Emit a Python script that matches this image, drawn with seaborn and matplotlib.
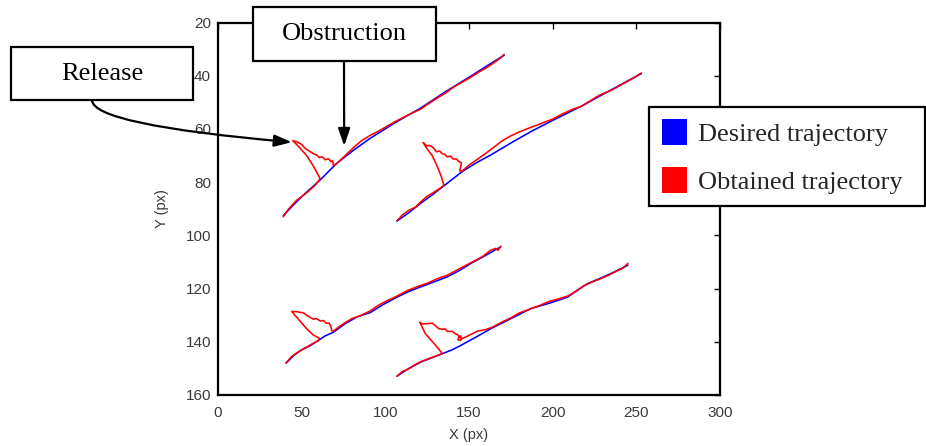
import matplotlib
matplotlib.use("Agg")
import matplotlib.pyplot as plt
import seaborn as sns
import pandas as pd
from matplotlib.patches import Patch, Rectangle

# ---------------- data ----------------
d1_x = [39, 45, 52, 61, 71, 81, 91, 106, 121, 136, 151, 161, 171]
d1_y = [92.6, 88.6, 84.3, 79.2, 72.9, 68.0, 63.5, 57.6, 52.2, 46.0, 40.2, 36.2, 32.3]
o1_x = [39, 42, 47, 53, 58, 61, 57.5, 53, 48, 44.7, 47, 50, 52, 55, 57, 59, 60.5, 62.5, 64, 66,
        67.5, 68.5, 69, 70.5, 76, 81, 86, 91, 96, 101, 106, 111, 116, 121, 126, 131, 136, 141,
        146, 151, 156, 161, 166, 169, 171]
o1_y = [93.0, 90.2, 86.8, 84.0, 81.2, 78.7, 74.5, 70.0, 66.5, 64.4, 64.8, 65.8, 67.3, 68.5, 69.3,
        69.8, 70.8, 70.5, 71.6, 71.2, 72.3, 72.0, 73.8, 73.3, 70.0, 67.0, 64.3, 62.4, 60.8, 59.0,
        57.2, 55.6, 54.0, 52.6, 50.4, 48.4, 46.5, 44.2, 42.4, 40.6, 38.6, 36.8, 34.6, 33.2, 32.0]

d2_x = [107, 114, 121, 128, 135, 146, 155, 163, 175, 187, 200, 217, 235, 253]
d2_y = [94.6, 91.5, 88.0, 84.8, 81.4, 76.0, 72.5, 69.8, 65.3, 61.0, 56.8, 51.5, 45.3, 39.2]
o2_x = [107, 110, 114, 118, 121, 125, 129, 133, 135, 133.5, 131, 128, 125, 122.6, 124.5, 127,
        129, 130.5, 132.5, 134, 135.5, 137, 139, 140.5, 142.5, 144, 145.5, 145, 144.5, 146, 150,
        155, 160, 165, 170, 175, 181, 187, 193, 200, 206, 212, 217, 222, 228, 235, 241, 247, 253]
o2_y = [94.6, 92.4, 90.6, 89.4, 87.5, 85.3, 83.8, 82.2, 81.2, 78.0, 74.0, 70.0, 67.5, 65.1, 66.2,
        66.3, 67.3, 68.6, 68.3, 69.3, 69.5, 70.5, 70.2, 71.3, 71.3, 72.3, 72.7, 74.3, 75.8, 75.8,
        73.6, 71.4, 69.2, 66.8, 64.4, 62.6, 60.9, 59.4, 58.0, 56.3, 54.3, 52.6, 51.6, 49.6, 47.3,
        45.5, 43.4, 41.3, 39.0]

d3_x = [40.7, 45, 50, 55, 59, 64, 69, 76, 83, 91, 99, 107, 114, 121, 129, 137, 144, 151, 160, 169]
d3_y = [148.0, 145.3, 143.0, 141.5, 139.9, 137.8, 136.4, 133.2, 130.7, 129.0, 125.9, 123.2, 121.1,
        119.4, 117.5, 115.6, 113.3, 110.6, 107.5, 104.3]
o3_x = [40.7, 44, 48, 53, 57, 60, 60.5, 57, 53, 48, 44.1, 47, 51, 53, 55, 57, 59, 61, 63, 64.5,
        66.5, 67.5, 68, 69, 72, 76, 80, 85, 91, 96, 101, 107, 113, 119, 125, 131, 137, 143, 148,
        153, 158, 162.9, 165.9, 167.5, 168.9]
o3_y = [148.0, 145.5, 143.8, 142.0, 140.5, 139.6, 138.6, 137.5, 135.1, 131.5, 128.6, 128.7, 129.1,
        130.0, 130.8, 131.5, 131.3, 132.2, 132.0, 133.0, 133.0, 134.3, 135.8, 136.0, 134.5, 132.8,
        131.3, 130.2, 128.4, 126.2, 124.6, 122.8, 120.8, 119.3, 118.0, 116.3, 115.0, 113.0, 111.3,
        109.7, 108.0, 105.6, 104.9, 105.6, 104.1]

d4_x = [107, 114, 121, 127, 134, 140, 145, 154, 163, 175, 187, 198, 209, 215, 221, 229, 237, 245]
d4_y = [152.9, 150.0, 147.7, 146.2, 144.5, 143.0, 141.4, 138.3, 135.1, 131.3, 127.5, 125.5, 123.2,
        120.5, 118.1, 116.0, 113.7, 111.2]
o4_x = [107, 110, 114, 118, 121, 126, 131, 134, 131, 127.5, 124, 122, 120.6, 122, 125, 128, 130,
        132, 134, 136, 137, 140, 142, 143.5, 144, 143.3, 145, 145.5, 144.5, 146, 150, 155, 160,
        164, 170, 175, 180, 186, 192, 198, 203, 209, 214, 219, 223, 229, 234, 238, 242, 245]
o4_y = [153.0, 151.2, 150.2, 148.5, 147.5, 146.3, 145.2, 144.4, 142.0, 139.5, 137.0, 134.5, 132.6,
        133.3, 133.2, 133.0, 134.0, 135.1, 135.3, 135.2, 136.1, 136.1, 137.0, 137.5, 138.5, 139.2,
        139.5, 138.6, 137.8, 138.8, 137.6, 136.0, 135.4, 134.5, 132.5, 131.0, 129.2, 127.8, 126.4,
        124.8, 124.0, 122.8, 121.0, 118.8, 117.7, 116.2, 114.8, 113.5, 112.3, 110.5]

series_names = ["Desired trajectory", "Obtained trajectory"]
x_ticks = [0, 50, 100, 150, 200, 250, 300]
y_ticks = [20, 40, 60, 80, 100, 120, 140, 160]
x_label = "X (px)"
y_label = "Y (px)"

# ---------------- build table ----------------
rows = []
desired = [(d1_x, d1_y), (d2_x, d2_y), (d3_x, d3_y), (d4_x, d4_y)]
obtained = [(o1_x, o1_y), (o2_x, o2_y), (o3_x, o3_y), (o4_x, o4_y)]
for k, (xs, ys) in enumerate(desired):
    for i, (a, b) in enumerate(zip(xs, ys)):
        rows.append({"x": a, "y": b, "series": series_names[0], "traj": f"d{k}", "order": i})
for k, (xs, ys) in enumerate(obtained):
    for i, (a, b) in enumerate(zip(xs, ys)):
        rows.append({"x": a, "y": b, "series": series_names[1], "traj": f"o{k}", "order": i})
df = pd.DataFrame(rows)

# ---------------- figure ----------------
sns.set_style("white")
W, H = 926, 446
fig = plt.figure(figsize=(W / 100, H / 100), dpi=100)
ax = fig.add_axes([218 / W, 1 - 395 / H, (720 - 218) / W, (395 - 22.5) / H])

palette = {series_names[0]: "#0000ff", series_names[1]: "#ff0000"}
sns.lineplot(data=df, x="x", y="y", hue="series", units="traj", estimator=None,
             sort=False, palette=palette, linewidth=1.15, legend=False, ax=ax)

ax.set_xlim(0, 300)
ax.set_ylim(160, 20)
ax.set_xticks(x_ticks)
ax.set_yticks(y_ticks)
tick_font = "Liberation Sans"
ax.tick_params(direction="in", length=4, width=1, top=True, right=True,
               labelsize=11, labelcolor="#3a3a3a", color="black")
ax.tick_params(axis="x", pad=8)
ax.tick_params(axis="y", pad=5)
for lab in ax.get_xticklabels() + ax.get_yticklabels():
    lab.set_fontfamily(tick_font)
ax.set_xlabel(x_label, fontsize=10.5, color="#3a3a3a", family=tick_font, labelpad=6)
ax.set_ylabel(y_label, fontsize=10.5, color="#3a3a3a", family=tick_font, labelpad=12)
for s in ax.spines.values():
    s.set_visible(True)
    s.set_color("black")
    s.set_linewidth(1.6)

serif = "Liberation Serif"

# ---------------- annotation boxes ----------------
def fig_box(x0, y0, x1, y1, text):
    fig.add_artist(Rectangle((x0 / W, 1 - y1 / H), (x1 - x0) / W, (y1 - y0) / H,
                             transform=fig.transFigure, facecolor="white",
                             edgecolor="black", linewidth=1.6, zorder=5))
    fig.text((x0 + x1) / 2 / W, 1 - (y0 + y1) / 2 / H, text, ha="center", va="center",
             fontsize=19, family=serif, color="black", zorder=6)

fig_box(253, 7, 436, 61, "Obstruction")
fig_box(11, 47, 193, 100, "Release")

arrow_kw = dict(arrowstyle="-|>,head_length=1.05,head_width=0.36", color="black",
                lw=1.6, shrinkA=0, shrinkB=0, mutation_scale=10)
ax.annotate("", xy=(75.4, 66.4), xycoords="data",
            xytext=(344 / W, 1 - 61 / H), textcoords="figure fraction",
            arrowprops=dict(**arrow_kw, connectionstyle="arc3,rad=0"),
            annotation_clip=False)
ax.annotate("", xy=(44.1, 65.0), xycoords="data",
            xytext=(92 / W, 1 - 100 / H), textcoords="figure fraction",
            arrowprops=dict(**arrow_kw, connectionstyle="angle3,angleA=-90,angleB=-5"),
            annotation_clip=False)

# ---------------- legend ----------------
fig.add_artist(Rectangle((649 / W, 1 - 206 / H), (925 - 649) / W, (206 - 107) / H,
                         transform=fig.transFigure, facecolor="white",
                         edgecolor="black", linewidth=1.6, zorder=5))
handles = [Patch(facecolor=palette[n], edgecolor="none", label=n) for n in series_names]
leg = fig.legend(handles=handles, loc="upper left", bbox_to_anchor=(662 / W, 1 - 119.5 / H),
                 frameon=False, borderpad=0, borderaxespad=0, handlelength=0.95,
                 handleheight=1.12, handletextpad=0.42, labelspacing=0.8,
                 prop={"family": serif, "size": 19})
leg.set_zorder(6)

fig.savefig("out.png", dpi=100)
